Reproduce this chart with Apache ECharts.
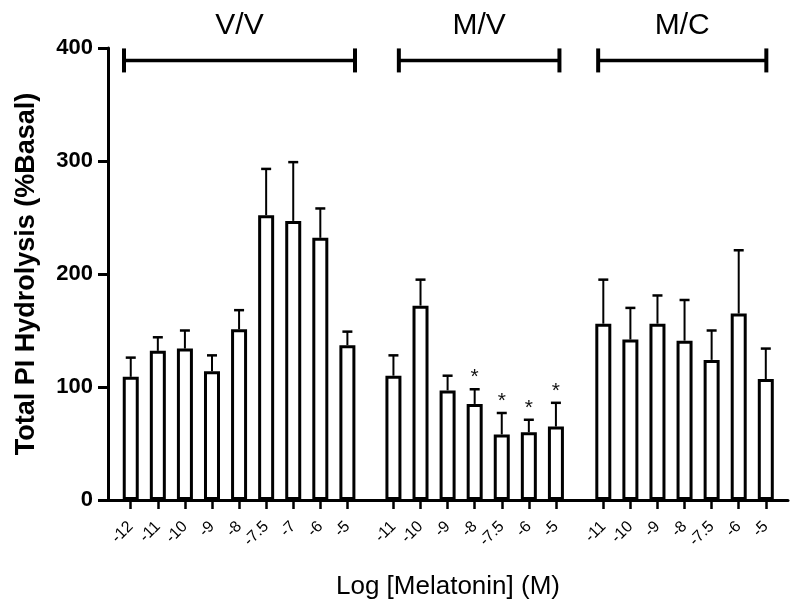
<!DOCTYPE html>
<html>
<head>
<meta charset="utf-8">
<script src="https://cdn.jsdelivr.net/npm/echarts@6/dist/echarts.min.js"></script>
<style>html,body{margin:0;padding:0;background:#fff;}#c{width:800px;height:607px;}</style>
</head>
<body>
<div id="c"></div>
<script>
// ---- data ----
const groupNames = ['V/V', 'M/V', 'M/C'];
const vvLabels = ['-12', '-11', '-10', '-9', '-8', '-7.5', '-7', '-6', '-5'];
const vvMean = [109, 132, 134, 114, 151, 252, 247, 232, 137];
const vvTop  = [126, 144, 150, 128, 168, 293, 299, 258, 149];
const vvSig  = [0, 0, 0, 0, 0, 0, 0, 0, 0];
const mvLabels = ['-11', '-10', '-9', '-8', '-7.5', '-6', '-5'];
const mvMean = [110, 172, 97, 85, 58, 60, 65];
const mvTop  = [128, 195, 110, 98, 77, 71, 86];
const mvSig  = [0, 0, 0, 1, 1, 1, 1];
const mcLabels = ['-11', '-10', '-9', '-8', '-7.5', '-6', '-5'];
const mcMean = [156, 142, 156, 141, 124, 165, 107];
const mcTop  = [195, 170, 181, 177, 150, 221, 134];
const mcSig  = [0, 0, 0, 0, 0, 0, 0];
const yTicks = [0, 100, 200, 300, 400];

// ---- layout (x positions in axis units) ----
const groupOffsets = [0, 9.7, 17.45];
const bracketPad = [[-0.25, 0.28], [0.2, 0.13], [-0.19, 0.02]];
const groups = [
  {labels: vvLabels, mean: vvMean, top: vvTop, sig: vvSig},
  {labels: mvLabels, mean: mvMean, top: mvTop, sig: mvSig},
  {labels: mcLabels, mean: mcMean, top: mcTop, sig: mcSig}
];
const positions = [], labelMap = {}, barData = [], errData = [], bracketData = [];
groups.forEach((g, gi) => {
  g.labels.forEach((lab, i) => {
    const x = +(groupOffsets[gi] + i).toFixed(2);
    positions.push(x);
    labelMap[x.toFixed(2)] = lab;
    barData.push([x, g.mean[i]]);
    errData.push([x, g.mean[i], g.top[i], g.sig[i]]);
  });
  bracketData.push([groupOffsets[gi] + bracketPad[gi][0],
                    groupOffsets[gi] + g.labels.length - 1 + bracketPad[gi][1], 389, gi]);
});

const FONT = 'Arial, "Liberation Sans", sans-serif';
const chart = echarts.init(document.getElementById('c'), null, {renderer: 'canvas'});
chart.setOption({
  animation: false,
  backgroundColor: '#ffffff',
  grid: {left: 108, right: 12, top: 48, bottom: 107, containLabel: false},
  xAxis: {
    type: 'value', min: -0.84, max: 24.27,
    splitLine: {show: false},
    axisLine: {show: true, onZero: false, lineStyle: {color: '#000', width: 3}},
    axisTick: {show: true, customValues: positions, length: 9, lineStyle: {color: '#000', width: 2.5}},
    axisLabel: {
      show: true, customValues: positions, rotate: 45, margin: 24,
      fontFamily: FONT, fontSize: 16, color: '#000',
      formatter: v => labelMap[(+v).toFixed(2)] || ''
    },
    name: 'Log [Melatonin] (M)', nameLocation: 'middle', nameGap: 74,
    nameTextStyle: {fontFamily: FONT, fontSize: 26, color: '#000'}
  },
  yAxis: {
    type: 'value', min: 0, max: 400, interval: 100,
    splitLine: {show: false},
    axisLine: {show: true, onZero: false, lineStyle: {color: '#000', width: 3}},
    axisTick: {show: true, length: 10, lineStyle: {color: '#000', width: 3}},
    axisLabel: {
      margin: 15, fontFamily: FONT, fontSize: 22, fontWeight: 'bold', color: '#000',
      formatter: v => (yTicks.indexOf(v) >= 0 ? String(v) : '')
    },
    name: 'Total PI Hydrolysis (%Basal)', nameLocation: 'middle', nameGap: 68,
    nameTextStyle: {fontFamily: FONT, fontSize: 27, fontWeight: 'bold', color: '#000'}
  },
  series: [
    {
      type: 'bar', data: barData, barWidth: 16,
      itemStyle: {color: '#fff', borderColor: '#000', borderWidth: 3},
      z: 2
    },
    {
      type: 'custom', data: errData, z: 3, clip: false,
      renderItem: (params, api) => {
        const x = api.value(0), m = api.value(1), t = api.value(2), s = api.value(3);
        const p0 = api.coord([x, m]), p1 = api.coord([x, t]);
        const children = [
          {type: 'line', shape: {x1: p0[0], y1: p0[1], x2: p1[0], y2: p1[1]},
           style: {stroke: '#000', lineWidth: 2}},
          {type: 'line', shape: {x1: p1[0] - 5, y1: p1[1], x2: p1[0] + 5, y2: p1[1]},
           style: {stroke: '#000', lineWidth: 2.5}}
        ];
        if (s) {
          children.push({type: 'text', x: p1[0], y: p1[1] - 12,
            style: {text: '*', fill: '#111', font: '21px ' + FONT,
                    textAlign: 'center', textVerticalAlign: 'middle'}});
        }
        return {type: 'group', children};
      }
    },
    {
      type: 'custom', data: bracketData, z: 3, clip: false,
      renderItem: (params, api) => {
        const a = api.coord([api.value(0), api.value(2)]);
        const b = api.coord([api.value(1), api.value(2)]);
        const name = groupNames[api.value(3)];
        return {type: 'group', children: [
          {type: 'line', shape: {x1: a[0], y1: a[1], x2: b[0], y2: b[1]},
           style: {stroke: '#000', lineWidth: 3.5}},
          {type: 'line', shape: {x1: a[0], y1: a[1] - 12, x2: a[0], y2: a[1] + 12},
           style: {stroke: '#000', lineWidth: 4}},
          {type: 'line', shape: {x1: b[0], y1: b[1] - 12, x2: b[0], y2: b[1] + 12},
           style: {stroke: '#000', lineWidth: 4}},
          {type: 'text', x: (a[0] + b[0]) / 2, y: a[1] - 35,
           style: {text: name, fill: '#000', font: '30px ' + FONT,
                   textAlign: 'center', textVerticalAlign: 'middle'}}
        ]};
      }
    }
  ]
});
</script>
</body>
</html>
